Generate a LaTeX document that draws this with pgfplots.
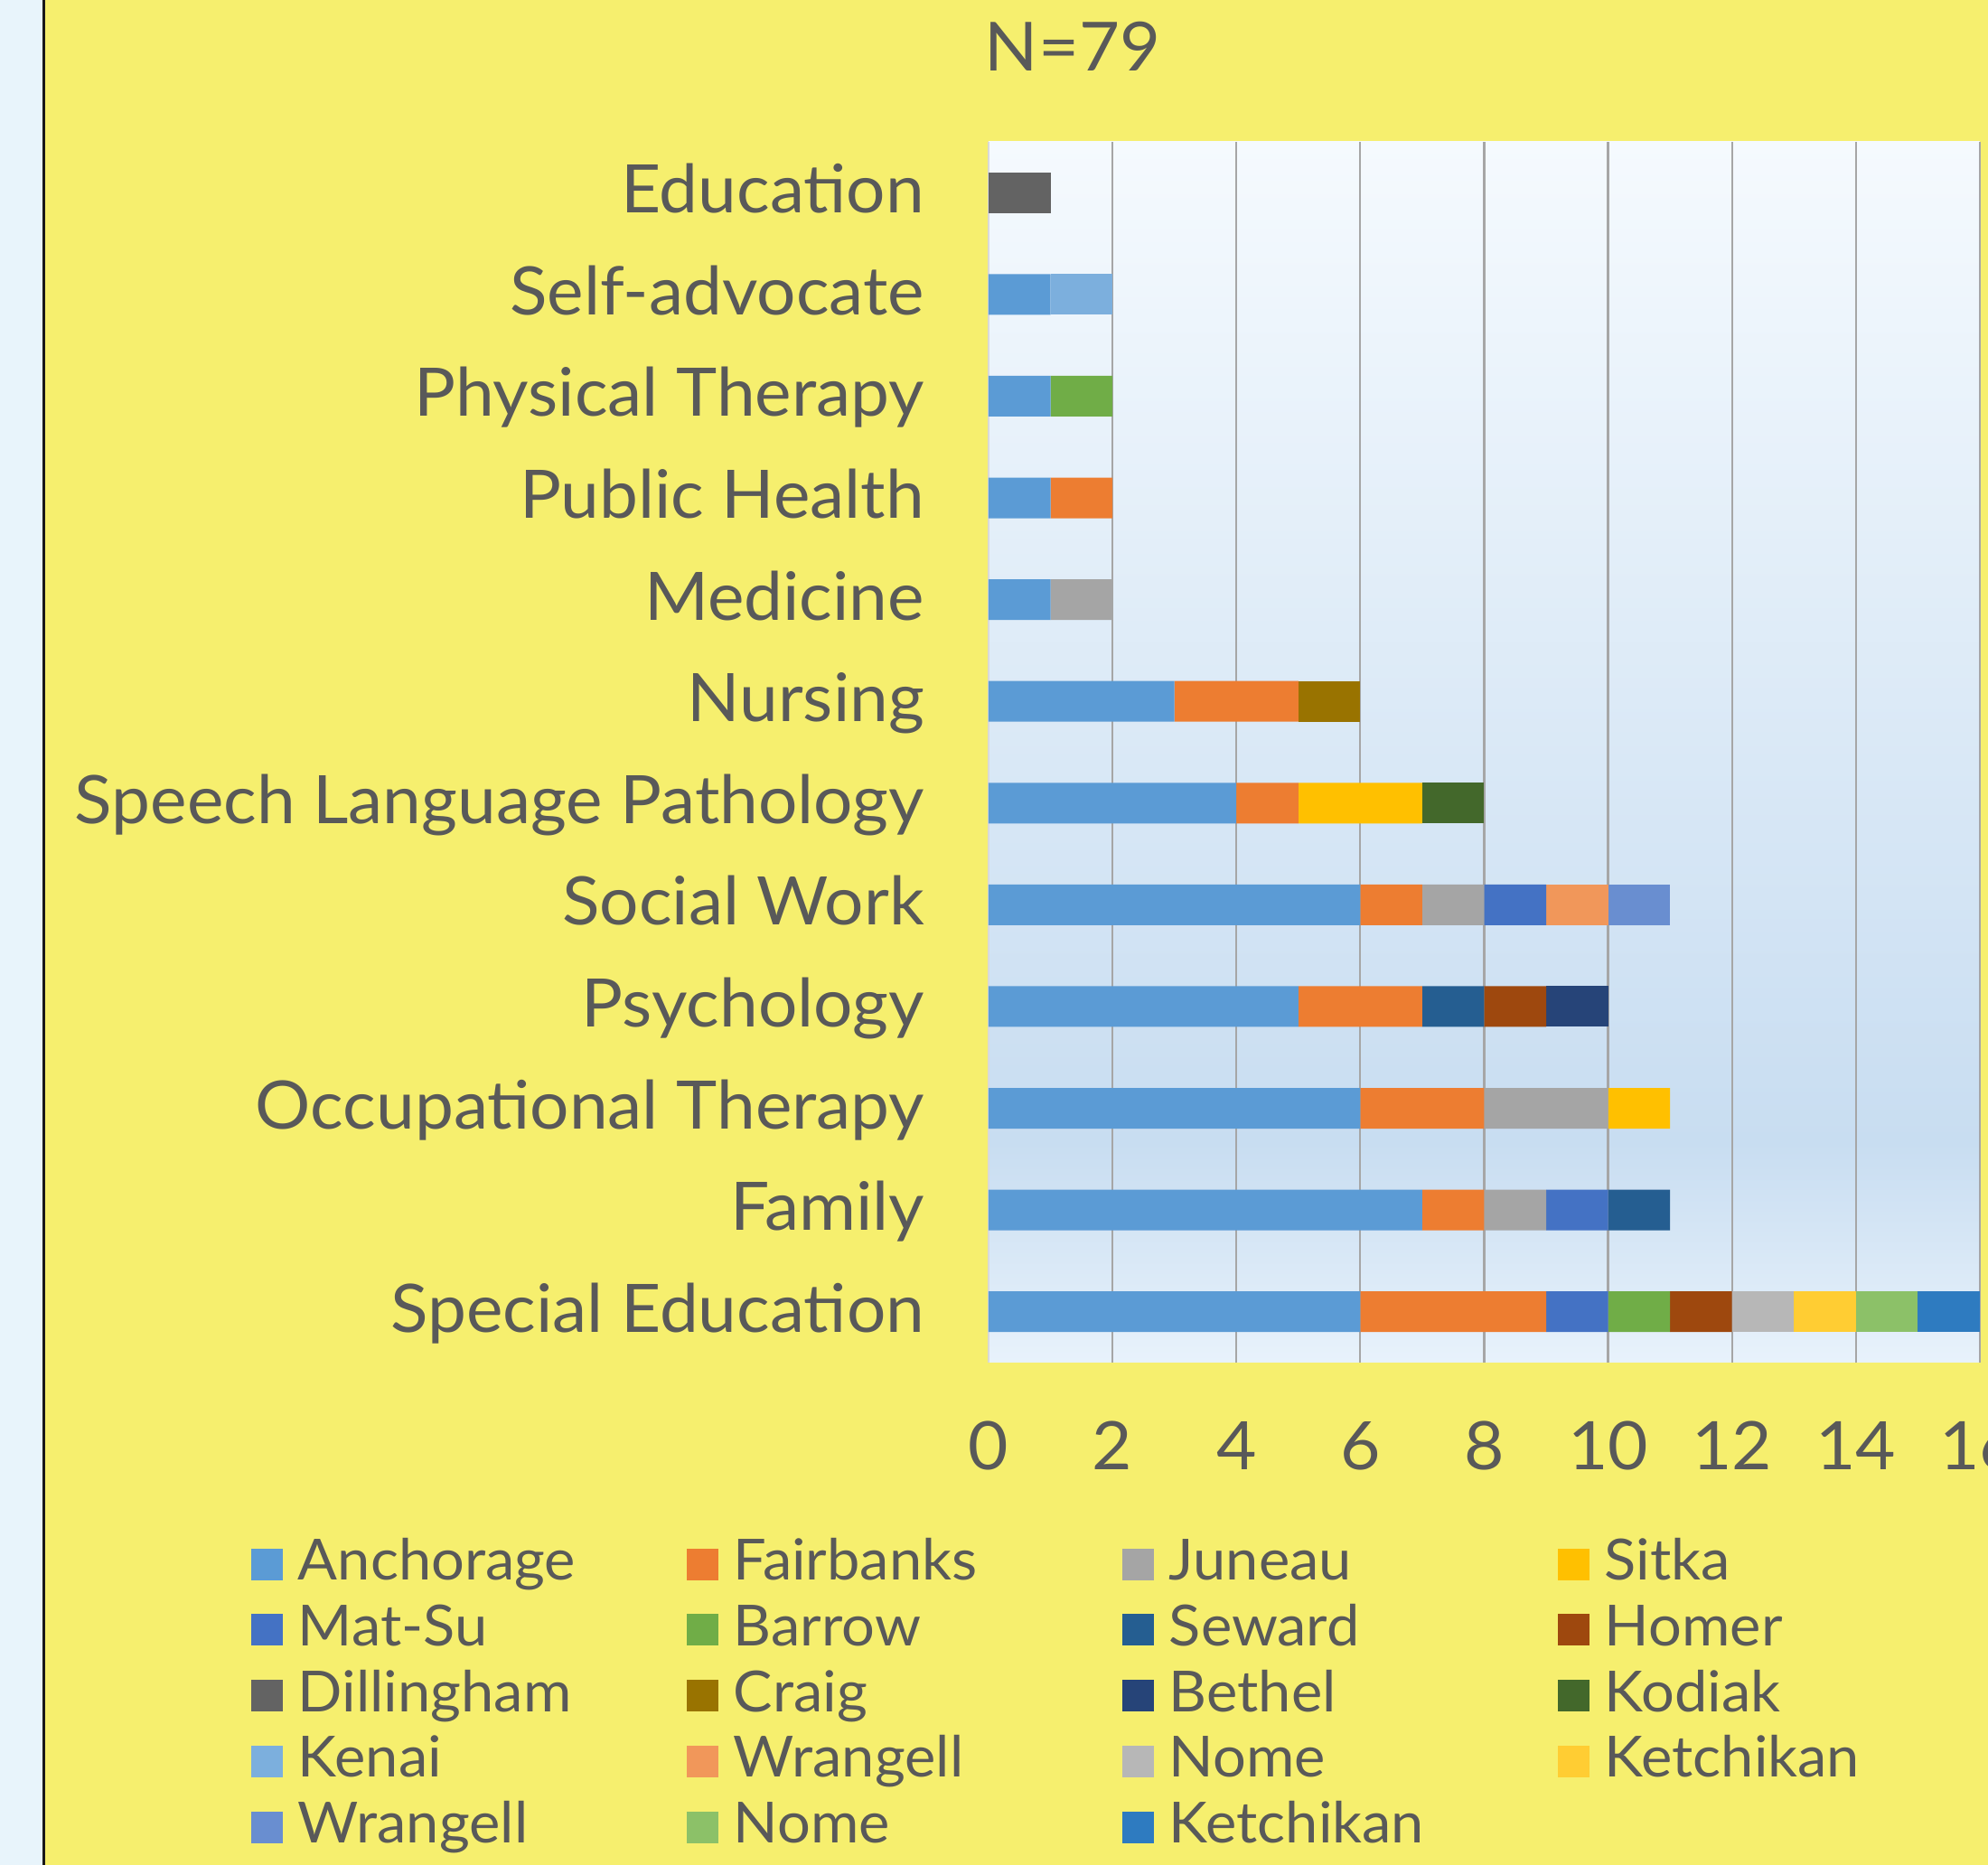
\documentclass[border=0pt]{standalone}
\usepackage{fontspec}
\setmainfont{Lato}[FakeStretch=1.035]
\usepackage{pgfplots}
\usepackage{pgfplotstable}
\pgfplotsset{compat=1.18}

\definecolor{bgyellow}{HTML}{F6EF6E}
\definecolor{stripblue}{HTML}{E8F4FB}
\definecolor{labelgray}{HTML}{595959}
\definecolor{gridgray}{HTML}{A6A6A6}
\definecolor{gridlight}{HTML}{D9D9D9}
\definecolor{bgtop}{HTML}{F5FAFE}
\definecolor{bgdeep}{HTML}{C8DDF1}
\definecolor{bgbot}{HTML}{E8F2FB}

\definecolor{s1}{HTML}{5B9BD5}
\definecolor{s2}{HTML}{ED7D31}
\definecolor{s3}{HTML}{A5A5A5}
\definecolor{s4}{HTML}{FFC000}
\definecolor{s5}{HTML}{4472C4}
\definecolor{s6}{HTML}{70AD47}
\definecolor{s7}{HTML}{255E91}
\definecolor{s8}{HTML}{9E480E}
\definecolor{s9}{HTML}{636363}
\definecolor{s10}{HTML}{997300}
\definecolor{s11}{HTML}{264478}
\definecolor{s12}{HTML}{43682B}
\definecolor{s13}{HTML}{7CAFDD}
\definecolor{s14}{HTML}{F1975A}
\definecolor{s15}{HTML}{B7B7B7}
\definecolor{s16}{HTML}{FFCD33}
\definecolor{s17}{HTML}{698ED0}
\definecolor{s18}{HTML}{8CC168}
\definecolor{s19}{HTML}{2E7BC0}

\pgfdeclareverticalshading{plotbg}{100bp}{color(0bp)=(bgbot); color(25bp)=(bgbot); color(34bp)=(bgdeep); color(75bp)=(bgtop); color(100bp)=(bgtop)}

\pgfplotstableread{
pos c1 c2 c3 c4 c5 c6 c7 c8 c9 c10 c11 c12 c13 c14 c15 c16 c17 c18 c19
0  6 3 0 0 1 1 0 1 0 0 0 0 0 0 1 1 0 1 1
1  7 1 1 0 1 0 1 0 0 0 0 0 0 0 0 0 0 0 0
2  6 2 2 1 0 0 0 0 0 0 0 0 0 0 0 0 0 0 0
3  5 2 0 0 0 0 1 1 0 0 1 0 0 0 0 0 0 0 0
4  6 1 1 0 1 0 0 0 0 0 0 0 0 1 0 0 1 0 0
5  4 1 0 2 0 0 0 0 0 0 0 1 0 0 0 0 0 0 0
6  3 2 0 0 0 0 0 0 0 1 0 0 0 0 0 0 0 0 0
7  1 0 1 0 0 0 0 0 0 0 0 0 0 0 0 0 0 0 0
8  1 1 0 0 0 0 0 0 0 0 0 0 0 0 0 0 0 0 0
9  1 0 0 0 0 1 0 0 0 0 0 0 0 0 0 0 0 0 0
10 1 0 0 0 0 0 0 0 0 0 0 0 1 0 0 0 0 0 0
11 0 0 0 0 0 0 0 0 1 0 0 0 0 0 0 0 0 0 0
}\datatable

\newcommand{\LE}[1]{\makebox[84pt][l]{#1}}

\begin{document}
\begin{tikzpicture}
\useasboundingbox (0,0) rectangle (440pt,412.8pt);
\fill[bgyellow] (0,0) rectangle (440pt,412.8pt);
\fill[stripblue] (0,0) rectangle (9.4pt,412.8pt);
\draw[black!90, line width=0.5pt] (9.65pt,0) -- (9.65pt,412.8pt);
\clip (0,0) rectangle (440pt,412.8pt);
\node[anchor=base, font=\fontsize{15.0}{18}\selectfont, text=labelgray] at (237.4pt,397pt) {N=79};
\begin{axis}[
  at={(218.8pt,111.2pt)}, anchor=south west,
  scale only axis, width=219.4pt, height=270.2pt,
  xbar stacked, bar width=0.4,
  xmin=0, xmax=16, ymin=-0.5, ymax=11.5,
  xtick={2,4,...,16},
  extra x ticks={0},
  extra x tick style={grid style={draw=gridlight, line width=0.45pt}},
  ytick={0,...,11},
  yticklabels={Special Education, Family, Occupational Therapy, Psychology, Social Work, Speech Language Pathology, Nursing, Medicine, Public Health, Physical Therapy, Self-advocate, Education},
  xmajorgrids, ymajorgrids=false,
  grid style={draw=gridgray, line width=0.45pt},
  axis line style={draw=none},
  major tick length=0pt,
  tick label style={font=\fontsize{14.8}{17}\selectfont, text=labelgray},
  yticklabel style={anchor=base east, inner sep=0pt, xshift=-14pt, yshift=-4.5pt},
  xticklabel style={anchor=base, inner sep=0pt, yshift=-23.8pt},
  /pgf/number format/assume math mode=true,
  axis background/.style={shading=plotbg},
  legend columns=4,
  legend style={at={(-0.74476,-0.13472)}, anchor=north west, draw=none, fill=none,
    inner sep=0pt, row sep=-0.45pt, font=\fontsize{12.55}{15}\selectfont, text=labelgray,
    cells={anchor=base west, inner sep=0pt, text height=9.5pt, text depth=3pt},
    /tikz/every odd column/.append style={column sep=1.4pt},
    /tikz/every even column/.append style={column sep=0pt}},
  legend image code/.code={\fill[#1,draw=none] (0pt,0pt) rectangle (7pt,7pt);},
]
\addplot[fill=s1, draw=none] table[x=c1, y=pos] {\datatable}; \addlegendentry{\LE{Anchorage}}
\addplot[fill=s2, draw=none] table[x=c2, y=pos] {\datatable}; \addlegendentry{\LE{Fairbanks}}
\addplot[fill=s3, draw=none] table[x=c3, y=pos] {\datatable}; \addlegendentry{\LE{Juneau}}
\addplot[fill=s4, draw=none] table[x=c4, y=pos] {\datatable}; \addlegendentry{\LE{Sitka}}
\addplot[fill=s5, draw=none] table[x=c5, y=pos] {\datatable}; \addlegendentry{\LE{Mat-Su}}
\addplot[fill=s6, draw=none] table[x=c6, y=pos] {\datatable}; \addlegendentry{\LE{Barrow}}
\addplot[fill=s7, draw=none] table[x=c7, y=pos] {\datatable}; \addlegendentry{\LE{Seward}}
\addplot[fill=s8, draw=none] table[x=c8, y=pos] {\datatable}; \addlegendentry{\LE{Homer}}
\addplot[fill=s9, draw=none] table[x=c9, y=pos] {\datatable}; \addlegendentry{\LE{Dillingham}}
\addplot[fill=s10, draw=none] table[x=c10, y=pos] {\datatable}; \addlegendentry{\LE{Craig}}
\addplot[fill=s11, draw=none] table[x=c11, y=pos] {\datatable}; \addlegendentry{\LE{Bethel}}
\addplot[fill=s12, draw=none] table[x=c12, y=pos] {\datatable}; \addlegendentry{\LE{Kodiak}}
\addplot[fill=s13, draw=none] table[x=c13, y=pos] {\datatable}; \addlegendentry{\LE{Kenai}}
\addplot[fill=s14, draw=none] table[x=c14, y=pos] {\datatable}; \addlegendentry{\LE{Wrangell}}
\addplot[fill=s15, draw=none] table[x=c15, y=pos] {\datatable}; \addlegendentry{\LE{Nome}}
\addplot[fill=s16, draw=none] table[x=c16, y=pos] {\datatable}; \addlegendentry{\LE{Ketchikan}}
\addplot[fill=s17, draw=none] table[x=c17, y=pos] {\datatable}; \addlegendentry{\LE{Wrangell}}
\addplot[fill=s18, draw=none] table[x=c18, y=pos] {\datatable}; \addlegendentry{\LE{Nome}}
\addplot[fill=s19, draw=none] table[x=c19, y=pos] {\datatable}; \addlegendentry{\LE{Ketchikan}}
\end{axis}
\end{tikzpicture}
\end{document}
